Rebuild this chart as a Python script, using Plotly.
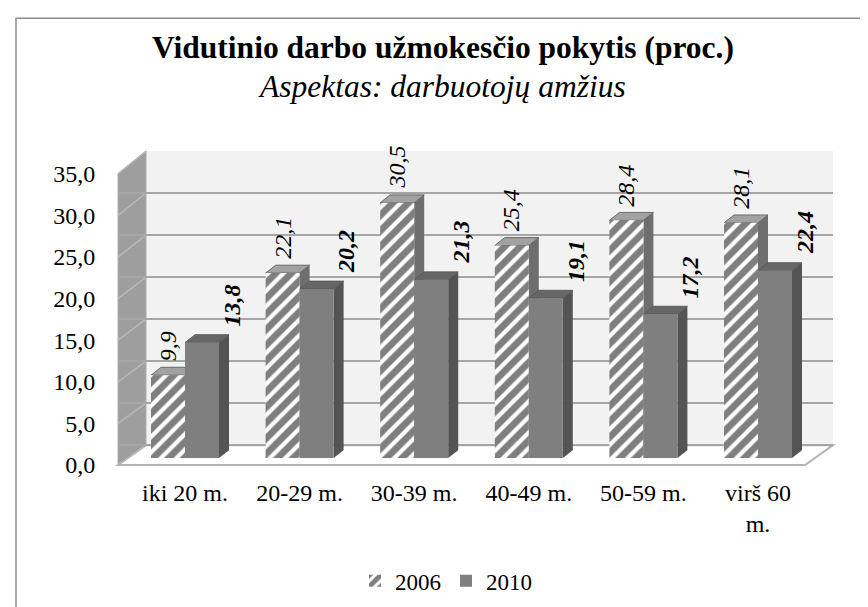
import plotly.graph_objects as go

# ---------------- data ----------------
categories = ["iki 20 m.", "20-29 m.", "30-39 m.", "40-49 m.", "50-59 m.", "virš 60 m."]
series_names = ["2006", "2010"]
values_2006 = [9.9, 22.1, 30.5, 25.4, 28.4, 28.1]
values_2010 = [13.8, 20.2, 21.3, 19.1, 17.2, 22.4]
y_tick_values = [0, 5, 10, 15, 20, 25, 30, 35]
title_text = "Vidutinio darbo užmokesčio pokytis (proc.)"
subtitle_text = "Aspektas: darbuotojų amžius"

# ---------------- layout constants (pixels) ----------------
W, H = 868, 607
L, R, T, B = 110, 825, 143, 460          # plot area
WALL_DX, WALL_DY = 28, 20                # depth of the 3D box
CAT0, CAT_STEP = 177, 114.6              # first category centre, spacing
BAR_PX = 34                              # width of one bar
BAR_BASE, BAR_SCALE = 453, 8.45          # bar baseline pixel, px per unit
LAB_BASE, LAB_SCALE = 460, 8.4           # tick-label axis
GRID_BASE, GRID_SCALE = 440, 8.4857      # back-wall grid
FACE_DX, FACE_DY = 10, 8                 # bar depth

FONT = "Liberation Serif"


def fx(p):
    return (p - L) / (R - L)


def fy(p):
    return (B - p) / (B - T)


def fmt(v):
    return f"{v:.1f}".replace(".", ",")


def wrap(s, n=9):
    if len(s) > n and " " in s:
        a, b = s.rsplit(" ", 1)
        return a + "<br>" + b
    return s


idx = list(range(len(categories)))
bw = BAR_PX / CAT_STEP
dxu = FACE_DX / CAT_STEP
dyu = FACE_DY / BAR_SCALE

fig = go.Figure()
fig.add_trace(go.Bar(
    x=idx, y=values_2006, name=series_names[0],
    marker=dict(color="white", line=dict(width=0),
                pattern=dict(shape="/", fgcolor="black", bgcolor="white",
                             size=11, solidity=0.62)),
))
fig.add_trace(go.Bar(
    x=idx, y=values_2010, name=series_names[1],
    marker=dict(color="#7f7f7f", line=dict(width=0)),
))
# helper traces so that the label axis and the grid axis are drawn
fig.add_trace(go.Scatter(x=[None], y=[None], yaxis="y2", showlegend=False,
                         hoverinfo="skip"))
fig.add_trace(go.Scatter(x=[None], y=[None], yaxis="y3", showlegend=False,
                         hoverinfo="skip"))

shapes = []
# back wall
shapes.append(dict(type="rect", xref="paper", yref="paper",
                   x0=fx(L + WALL_DX), x1=fx(R), y0=fy(B - WALL_DY), y1=fy(T),
                   fillcolor="#f2f2f2", line=dict(width=0), layer="below"))
# floor
fpath = (f"M {fx(L)},{fy(B)} L {fx(R - WALL_DX)},{fy(B)} "
         f"L {fx(R)},{fy(B - WALL_DY)} L {fx(L + WALL_DX)},{fy(B - WALL_DY)} Z")
shapes.append(dict(type="path", xref="paper", yref="paper", path=fpath,
                   fillcolor="white", line=dict(color="#b4b4b4", width=2),
                   layer="between"))
# left wall
top_front = LAB_BASE - LAB_SCALE * y_tick_values[-1]
top_back = GRID_BASE - GRID_SCALE * y_tick_values[-1]
wpath = (f"M {fx(L)},{fy(B)} L {fx(L + WALL_DX)},{fy(B - WALL_DY)} "
         f"L {fx(L + WALL_DX)},{fy(top_back)} L {fx(L)},{fy(top_front)} Z")
shapes.append(dict(type="path", xref="paper", yref="paper", path=wpath,
                   fillcolor="#9e9e9e", line=dict(color="#b0b0b0", width=1),
                   layer="between"))
for t in y_tick_values:
    yf = LAB_BASE - LAB_SCALE * t
    yb = GRID_BASE - GRID_SCALE * t
    shapes.append(dict(type="line", xref="paper", yref="paper",
                       x0=fx(L), x1=fx(L + WALL_DX), y0=fy(yf), y1=fy(yb),
                       line=dict(color="#b8b8b8", width=1.5), layer="between"))


# 3D faces of bars
def faces(x_left, v, top_col, side_col):
    xr = x_left + bw
    side = (f"M {xr},0 L {xr},{v} L {xr + dxu},{v + dyu} "
            f"L {xr + dxu},{dyu} Z")
    top = (f"M {x_left},{v} L {xr},{v} L {xr + dxu},{v + dyu} "
           f"L {x_left + dxu},{v + dyu} Z")
    return [
        dict(type="path", xref="x", yref="y", path=side, fillcolor=side_col,
             line=dict(width=0), layer="between"),
        dict(type="path", xref="x", yref="y", path=top, fillcolor=top_col,
             line=dict(color="#555555", width=0.8), layer="between"),
    ]


for i, v in zip(idx, values_2006):
    shapes += faces(i - bw, v, "#a2a2a2", "#6e6e6e")
for i, v in zip(idx, values_2010):
    shapes += faces(i, v, "#666666", "#545454")

# outer border
shapes.append(dict(type="rect", xref="paper", yref="paper",
                   x0=fx(8), x1=fx(W + 4), y0=fy(H + 4), y1=fy(9),
                   line=dict(color="#8c8c8c", width=1.5), layer="above"))

annotations = []
for i, v in zip(idx, values_2006):
    annotations.append(dict(
        x=i - bw / 2, y=v, xref="x", yref="y", text=fmt(v), textangle=-90,
        showarrow=False, xanchor="center", yanchor="bottom", yshift=12,
        font=dict(family=FONT, size=24, color="black", style="italic")))
for i, v in zip(idx, values_2010):
    annotations.append(dict(
        x=i + bw / 2, y=v, xref="x", yref="y", text=fmt(v), textangle=-90,
        showarrow=False, xanchor="center", yanchor="bottom", yshift=14,
        xshift=30,
        font=dict(family=FONT, size=24, color="black", style="italic",
                  weight="bold")))
annotations.append(dict(
    x=fx(435), y=fy(39), xref="paper", yref="paper", text=title_text,
    showarrow=False, xanchor="center", yanchor="middle",
    font=dict(family=FONT, size=31.5, color="black", weight="bold")))
annotations.append(dict(
    x=fx(434), y=fy(78), xref="paper", yref="paper", text=subtitle_text,
    showarrow=False, xanchor="center", yanchor="middle",
    font=dict(family=FONT, size=31.5, color="black", style="italic")))

fig.update_layout(
    width=W, height=H,
    margin=dict(l=L, r=W - R, t=T, b=H - B, pad=0),
    paper_bgcolor="white", plot_bgcolor="rgba(0,0,0,0)",
    separators=",.",
    barmode="group", bargap=1 - 2 * bw, bargroupgap=0,
    showlegend=True,
    legend=dict(orientation="h", x=fx(438), y=fy(577), xanchor="center",
                yanchor="middle", font=dict(family=FONT, size=23, color="black"),
                bgcolor="rgba(0,0,0,0)"),
    xaxis=dict(range=[(L - CAT0) / CAT_STEP, (R - CAT0) / CAT_STEP],
               tickvals=idx, ticktext=[wrap(c) for c in categories],
               showgrid=False, zeroline=False, showline=False,
               ticks="outside", ticklen=6, tickcolor="rgba(0,0,0,0)",
               tickfont=dict(family=FONT, size=24, color="black")),
    yaxis=dict(range=[(BAR_BASE - B) / BAR_SCALE, (BAR_BASE - T) / BAR_SCALE],
               showticklabels=False, ticks="", showgrid=False,
               zeroline=False, showline=False),
    yaxis2=dict(range=[0, (B - T) / LAB_SCALE], tickvals=y_tick_values,
                overlaying="y", side="left",
                tickformat=".1f", showgrid=False, zeroline=False, showline=False,
                ticks="outside", ticklen=17, tickcolor="rgba(0,0,0,0)",
                tickfont=dict(family=FONT, size=24, color="black")),
    yaxis3=dict(range=[(GRID_BASE - B) / GRID_SCALE, (GRID_BASE - T) / GRID_SCALE + 0.05],
                overlaying="y", side="left", tickvals=y_tick_values,
                showticklabels=False,
                showgrid=True, gridcolor="#a6a6a6", gridwidth=2,
                zeroline=False, showline=False, ticks=""),
    shapes=shapes, annotations=annotations,
)

fig.write_html("out.html")
